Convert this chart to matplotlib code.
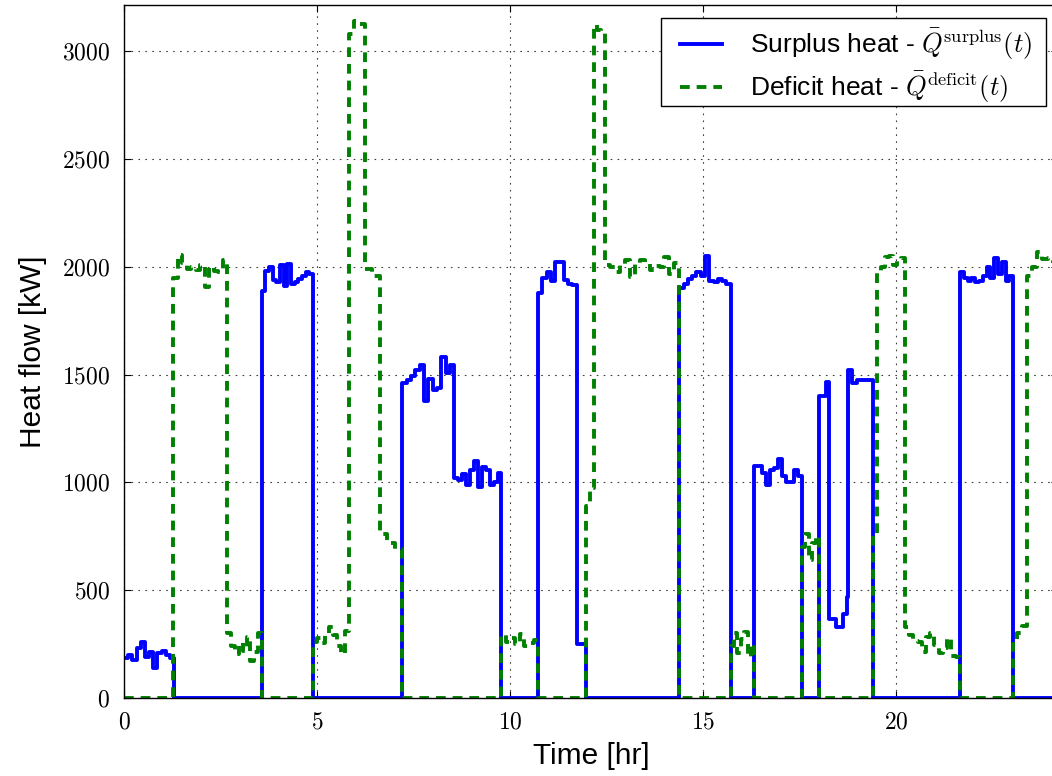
import numpy as np
import matplotlib
matplotlib.use("Agg")
import matplotlib.pyplot as plt
from matplotlib.ticker import FuncFormatter
from matplotlib.patches import Rectangle

# ---------------- data ----------------
# each block: (start hour, end hour, successive levels in kW)
surplus_blocks = [
    (0.00, 1.30, [185, 200, 175, 230, 260, 190, 215, 140, 210, 220, 200, 185]),
    (3.57, 4.90, [1890, 1980, 2000, 1940, 1930, 2010, 1910, 2015, 1920, 1930, 1945, 1960, 1975, 1965]),
    (7.21, 8.56, [1460, 1475, 1495, 1520, 1545, 1380, 1480, 1430, 1440, 1580, 1510, 1545]),
    (8.56, 9.78, [1020, 1010, 1040, 990, 1060, 1100, 980, 1070, 1060, 990, 1000, 1045]),
    (10.73, 11.73, [1880, 1950, 1975, 1935, 2025, 2025, 1940, 1920, 1915]),
    (11.73, 11.96, [250]),
    (14.39, 15.72, [1900, 1920, 1945, 1960, 1975, 1960, 2050, 1935, 1930, 1945, 1935, 1920]),
    (16.33, 17.56, [1075, 1075, 1045, 990, 1060, 1065, 1110, 1030, 1000, 1000, 1060, 1030]),
    (18.01, 18.20, [1400]),
    (18.20, 18.26, [1465]),
    (18.26, 18.46, [365]),
    (18.46, 18.63, [330]),
    (18.63, 18.73, [390]),
    (18.73, 18.77, [470]),
    (18.77, 18.86, [1520]),
    (18.86, 19.00, [1460]),
    (19.00, 19.41, [1475]),
    (21.66, 23.04, [1975, 1950, 1935, 1950, 1930, 1935, 1960, 2000, 1950, 2040, 1965, 2025, 1935, 1960]),
]

deficit_blocks = [
    (1.28, 2.68, [1950, 2055, 2020, 1990, 2000, 1985, 2010, 1905, 2000, 1980, 1975, 2030]),
    (2.68, 3.57, [300, 240, 205, 255, 220, 285, 170, 215, 300]),
    (4.90, 5.83, [260, 280, 255, 300, 330, 290, 240, 205, 310]),
    (5.83, 6.24, [3080, 3140, 3125]),
    (6.24, 6.63, [1990, 1960]),
    (6.63, 7.21, [760, 720, 690]),
    (9.78, 10.73, [290, 260, 280, 250, 295, 240, 255, 270]),
    (11.96, 12.17, [890, 975]),
    (12.17, 12.46, [3120, 3100, 3085]),
    (12.46, 14.39, [2010, 2000, 1975, 2015, 2030, 1955, 2015, 2030, 2020, 1985, 2005, 2000, 2045, 1965, 2020]),
    (15.72, 16.33, [240, 300, 210, 275, 305, 190, 250]),
    (17.56, 18.01, [700, 760, 640, 720, 750]),
    (19.41, 19.50, [760]),
    (19.50, 20.23, [1975, 2000, 2045, 2050, 2010, 2030, 2040]),
    (20.23, 21.66, [330, 290, 265, 260, 215, 285, 300, 245, 210, 230, 280, 195, 190]),
    (23.04, 23.13, [250]),
    (23.13, 23.39, [300, 335]),
    (23.39, 24.20, [1960, 2000, 2070, 2035, 2040, 2020]),
]

x_ticks = [0, 5, 10, 15, 20]
y_ticks = [0, 500, 1000, 1500, 2000, 2500, 3000]
labels = [r"Surplus heat - $\bar{Q}^{\rm surplus}(t)$",
          r"Deficit heat - $\bar{Q}^{\rm deficit}(t)$"]


def build_steps(blocks, t_end=24.2):
    ts, vs = [0.0], [0.0]
    cur = 0.0
    for t0, t1, vals in blocks:
        if t0 > cur + 1e-9:
            ts.append(cur); vs.append(0.0)
        edges = np.linspace(t0, t1, len(vals) + 1)
        for e, v in zip(edges[:-1], vals):
            ts.append(e); vs.append(v)
        cur = t1
    if cur < t_end:
        ts.append(cur); vs.append(0.0)
    ts.append(t_end); vs.append(vs[-1])
    return np.array(ts[1:]), np.array(vs[1:])


plt.rcParams['mathtext.fontset'] = 'cm'
plt.rcParams['lines.scale_dashes'] = False
plt.rcParams['font.family'] = ['Liberation Sans', 'DejaVu Sans']

W, H = 1052, 776
fig = plt.figure(figsize=(W / 100, H / 100), dpi=100)
L, R, B, T = 124 / W, 1058 / W, 78 / H, 771 / H
ax = fig.add_axes([L, B, R - L, T - B])

ts, vs = build_steps(surplus_blocks)
td, vd = build_steps(deficit_blocks)
ax.step(ts, vs, where='post', color=(0, 0, 1), lw=2.8, label=labels[0])
ax.step(td, vd, where='post', color=(0, 0.5, 0), lw=2.8, dashes=(7, 5), label=labels[1])

ax.set_xlim(0, 24.2)
ax.set_ylim(0, 3215)
ax.set_xticks(x_ticks)
ax.set_yticks(y_ticks)
fmt = FuncFormatter(lambda v, p: r"$%d$" % v)
ax.xaxis.set_major_formatter(fmt)
ax.yaxis.set_major_formatter(fmt)
ax.tick_params(direction='in', top=True, right=True, length=5, width=0.8,
               labelsize=17, pad=10)
ax.grid(True, color='0.25', lw=0.8, dashes=(1.2, 3.8))
for s in ax.spines.values():
    s.set_linewidth(1.0)
    s.set_color('black')

ax.set_xlabel("Time [hr]", fontsize=21.5, labelpad=6)
ax.set_ylabel("Heat flow [kW]", fontsize=21.5, labelpad=11)

# legend frame (square, black edge) and frameless legend content
frame = Rectangle((661 / W, 1 - 106 / H), (1046 - 661) / W, 88 / H,
                  transform=fig.transFigure, facecolor='white',
                  edgecolor='black', lw=1.0, zorder=4.9, clip_on=False)
ax.add_artist(frame)
leg = ax.legend(loc='upper left', bbox_to_anchor=(680 / W, 1 - 27 / H),
                bbox_transform=fig.transFigure, fontsize=19, frameon=False,
                handlelength=1.58, handletextpad=1.06,
                borderpad=0.0, labelspacing=0.3, borderaxespad=0.0)
leg.set_zorder(5)

fig.savefig("out.png", dpi=100)
